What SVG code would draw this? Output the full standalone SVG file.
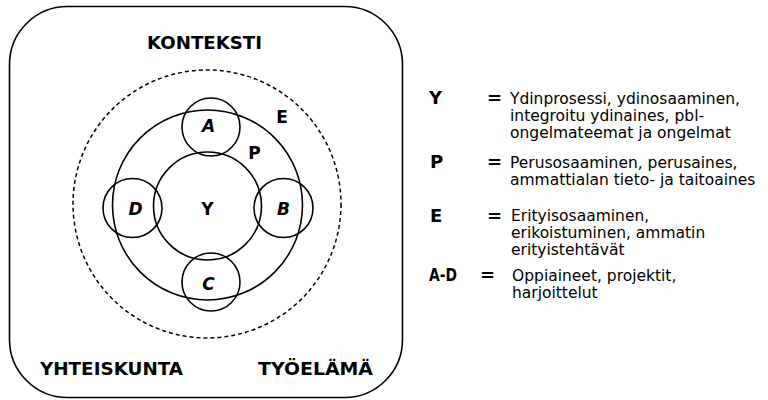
<svg xmlns="http://www.w3.org/2000/svg" width="768" height="400" viewBox="0 0 768 400">
<style>
.ln{fill:none;stroke:#000;stroke-width:1.6}
.dash{fill:none;stroke:#000;stroke-width:1.5;stroke-dasharray:4 3}
.big{font-family:"DejaVu Sans",sans-serif;font-weight:bold;font-size:17px;fill:#000}
.lt{font-family:"DejaVu Sans",sans-serif;font-weight:bold;font-size:17px;fill:#000;text-anchor:middle}
.it{font-style:italic}
.key{font-family:"DejaVu Sans",sans-serif;font-weight:bold;font-size:18px;fill:#000}
.txt{font-family:"DejaVu Sans",sans-serif;font-size:15.5px;fill:#000}
</style>
<rect width="768" height="400" fill="#fff"/>
<g id="context">
<rect class="ln" x="9.5" y="6.5" width="393" height="391" rx="58" ry="58"/>
<text class="big" x="147" y="49" textLength="115" lengthAdjust="spacingAndGlyphs">KONTEKSTI</text>
<text class="big" x="40" y="375" textLength="143" lengthAdjust="spacingAndGlyphs">YHTEISKUNTA</text>
<text class="big" x="258" y="375" textLength="115" lengthAdjust="spacingAndGlyphs">TYÖELÄMÄ</text>
</g>
<g id="E">
<circle class="dash" cx="207" cy="204" r="134"/>
<text class="lt" x="282" y="123">E</text>
</g>
<g id="P">
<circle class="ln" cx="207.5" cy="205" r="95"/>
<text class="lt" x="254.5" y="159">P</text>
</g>
<g id="Y">
<circle class="ln" cx="207.5" cy="206" r="54"/>
<text class="lt" x="207.5" y="215">Y</text>
</g>
<g id="A">
<circle class="ln" cx="211" cy="127" r="29"/>
<text class="lt it" x="208.5" y="132">A</text>
</g>
<g id="B">
<circle class="ln" cx="283.5" cy="208" r="29.5"/>
<text class="lt it" x="283.5" y="215">B</text>
</g>
<g id="C">
<circle class="ln" cx="211" cy="282" r="29"/>
<text class="lt it" x="208.5" y="290">C</text>
</g>
<g id="D">
<circle class="ln" cx="132.5" cy="208" r="29.5"/>
<text class="lt it" x="135.5" y="215">D</text>
</g>
<g id="legend">
<g id="legend-Y">
<text class="key" x="429" y="104">Y</text>
<text class="key" x="487" y="104">=</text>
<text class="txt" x="510" y="104">Ydinprosessi, ydinosaaminen,</text>
<text class="txt" x="510" y="121">integroitu ydinaines, pbl-</text>
<text class="txt" x="510" y="138">ongelmateemat ja ongelmat</text>
</g>
<g id="legend-P">
<text class="key" x="430" y="168">P</text>
<text class="key" x="487" y="168">=</text>
<text class="txt" x="510" y="168">Perusosaaminen, perusaines,</text>
<text class="txt" x="510" y="185">ammattialan tieto- ja taitoaines</text>
</g>
<g id="legend-E">
<text class="key" x="430" y="222">E</text>
<text class="key" x="487" y="222">=</text>
<text class="txt" x="511" y="221">Erityisosaaminen,</text>
<text class="txt" x="511" y="238">erikoistuminen, ammatin</text>
<text class="txt" x="511" y="255">erityistehtävät</text>
</g>
<g id="legend-AD">
<text class="key" x="429" y="281" textLength="28" lengthAdjust="spacingAndGlyphs">A-D</text>
<text class="key" x="480" y="281">=</text>
<text class="txt" x="512" y="281">Oppiaineet, projektit,</text>
<text class="txt" x="512" y="298">harjoittelut</text>
</g>
</g>
</svg>
